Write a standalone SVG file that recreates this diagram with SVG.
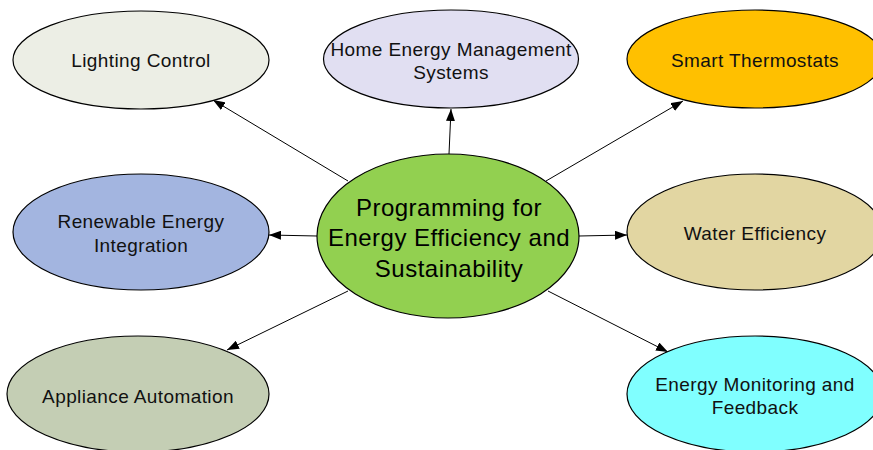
<svg xmlns="http://www.w3.org/2000/svg" width="873" height="450" viewBox="0 0 873 450">
<defs>
<marker id="arr" markerUnits="userSpaceOnUse" markerWidth="13" markerHeight="9" refX="12" refY="4.5" orient="auto">
<path d="M0,0 L12,4.5 L0,9 z" fill="#000"/>
</marker>
<style>
.n ellipse{stroke:#000;stroke-width:1.2}
.t{font-family:"Liberation Sans",Arial,sans-serif;font-size:19px;letter-spacing:0.4px;fill:#111;text-anchor:middle}
.c{font-family:"Liberation Sans",Arial,sans-serif;font-size:24px;letter-spacing:0.5px;fill:#000;text-anchor:middle}
.e{stroke:#000;stroke-width:1;fill:none;marker-end:url(#arr)}
</style>
</defs>
<rect width="873" height="450" fill="#fff"/>
<g id="connectors">
<line class="e" x1="348" y1="181" x2="213" y2="100"/>
<line class="e" x1="449" y1="154" x2="451" y2="109"/>
<line class="e" x1="546" y1="181" x2="683" y2="101"/>
<line class="e" x1="317" y1="236" x2="269" y2="235"/>
<line class="e" x1="579" y1="236" x2="627" y2="235"/>
<line class="e" x1="348" y1="291" x2="227" y2="350"/>
<line class="e" x1="548" y1="291" x2="668" y2="352"/>
</g>
<g id="lighting" class="n"><ellipse cx="141" cy="60" rx="128" ry="49" fill="#ECEEE5"/><text class="t" x="141" y="66.5">Lighting Control</text></g>
<g id="hems" class="n"><ellipse cx="451" cy="59" rx="127.5" ry="49" fill="#E1DFF2"/><text class="t" x="451" y="56">Home Energy Management</text><text class="t" x="451" y="79">Systems</text></g>
<g id="thermostats" class="n"><ellipse cx="755" cy="59" rx="128" ry="49" fill="#FFC000"/><text class="t" x="755" y="66.5">Smart Thermostats</text></g>
<g id="renewable" class="n"><ellipse cx="141" cy="232" rx="128" ry="58" fill="#A3B5E0"/><text class="t" x="141" y="228">Renewable Energy</text><text class="t" x="141" y="251.5">Integration</text></g>
<g id="water" class="n"><ellipse cx="755" cy="232" rx="128" ry="58" fill="#E2D6A2"/><text class="t" x="755" y="240">Water Efficiency</text></g>
<g id="appliance" class="n"><ellipse cx="138" cy="394" rx="131" ry="58" fill="#C4CEB4"/><text class="t" x="138" y="402.5">Appliance Automation</text></g>
<g id="monitoring" class="n"><ellipse cx="755" cy="394" rx="128" ry="58" fill="#80FFFF"/><text class="t" x="755" y="390.5">Energy Monitoring and</text><text class="t" x="755" y="414">Feedback</text></g>
<g id="center" class="n"><ellipse cx="448" cy="236" rx="131" ry="82" fill="#92D050"/><text class="c" x="449" y="216">Programming for</text><text class="c" x="449" y="246">Energy Efficiency and</text><text class="c" x="449" y="276.5">Sustainability</text></g>
</svg>
